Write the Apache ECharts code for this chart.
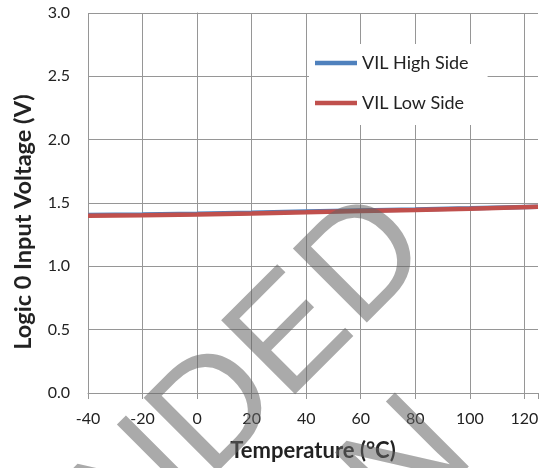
<!DOCTYPE html>
<html><head><meta charset="utf-8">
<script src="https://cdn.jsdelivr.net/npm/echarts@6/dist/echarts.min.js"></script>
<style>html,body{margin:0;padding:0;background:#fff}#c{width:551px;height:468px}</style>
</head><body><div id="c"></div>
<script>
const temps = [-40, -20, 0, 20, 40, 60, 80, 100, 125];
const vilHigh = [1.405, 1.410, 1.416, 1.423, 1.432, 1.441, 1.449, 1.458, 1.470];
const vilLow  = [1.400, 1.404, 1.410, 1.417, 1.426, 1.436, 1.445, 1.455, 1.470];
const seriesNames = ['VIL High Side', 'VIL Low Side'];
const xTitle = 'Temperature (°C)';
const yTitle = 'Logic 0 Input Voltage (V)';
const watermarkLines = ['NOT RECOMMENDED', 'FOR NEW DESIGN'];

const font = 'Lato, "Open Sans", sans-serif';
const chart = echarts.init(document.getElementById('c'), null, {renderer: 'canvas'});
chart.setOption({
  animation: false,
  backgroundColor: '#fff',
  grid: {left: 88, right: 13, top: 13, bottom: 75},
  legend: {
    orient: 'vertical', left: 309, top: 44,
    backgroundColor: '#fff',
    padding: [10, 19, 13, 6],
    itemGap: 22, itemWidth: 42, itemHeight: 4.5, icon: 'rect',
    textStyle: {fontFamily: font, fontSize: 18, color: '#222'},
    data: seriesNames
  },
  graphic: [
    {type: 'text', x: 23, y: 222, rotation: Math.PI / 2, z: 50,
     style: {text: yTitle, font: 'bold 23.5px Lato, sans-serif', fill: '#222', align: 'center', verticalAlign: 'middle'}},
    {type: 'text', x: 406, y: 224, rotation: Math.PI / 4, z: 100, silent: true,
     style: {text: watermarkLines[0], font: '152px "Liberation Sans", Arial, sans-serif', fill: 'rgba(100,100,100,0.55)', align: 'right', verticalAlign: 'middle'}},
    {type: 'text', x: 448, y: 428, rotation: Math.PI / 4, z: 100, silent: true,
     style: {text: watermarkLines[1], font: '152px "Liberation Sans", Arial, sans-serif', fill: 'rgba(100,100,100,0.55)', align: 'right', verticalAlign: 'middle'}}
  ],
  xAxis: {
    type: 'value', min: -40, max: 125, interval: 20,
    name: xTitle, nameLocation: 'middle', nameGap: 47,
    nameTextStyle: {fontFamily: font, fontSize: 22, fontWeight: 'bold', color: '#222'},
    axisLine: {show: true, onZero: false, lineStyle: {color: '#969696', width: 1}},
    axisTick: {show: true, length: 6, inside: false, lineStyle: {color: '#969696'}},
    axisLabel: {fontFamily: font, fontSize: 16, color: '#222', margin: 18,
      formatter: v => (v === 125 ? '' : String(v))},
    splitLine: {show: true, showMaxLine: false, lineStyle: {color: '#969696', width: 1}}
  },
  yAxis: {
    type: 'value', min: 0, max: 3, interval: 0.5,
    axisLine: {show: true, lineStyle: {color: '#969696', width: 1}},
    axisTick: {show: true, length: 6, lineStyle: {color: '#969696'}},
    axisLabel: {fontFamily: font, fontSize: 16, color: '#222', margin: 18,
      formatter: v => v.toFixed(1)},
    splitLine: {show: true, lineStyle: {color: '#969696', width: 1}}
  },
  series: [
    {name: seriesNames[0], type: 'line', data: temps.map((t, i) => [t, vilHigh[i]]),
     showSymbol: false, symbol: 'none', lineStyle: {color: '#4f81bd', width: 4.5}, itemStyle: {color: '#4f81bd'}, z: 2},
    {name: seriesNames[1], type: 'line', data: temps.map((t, i) => [t, vilLow[i]]),
     showSymbol: false, symbol: 'none', lineStyle: {color: '#c0504d', width: 4.5}, itemStyle: {color: '#c0504d'}, z: 3}
  ]
});
</script></body></html>
